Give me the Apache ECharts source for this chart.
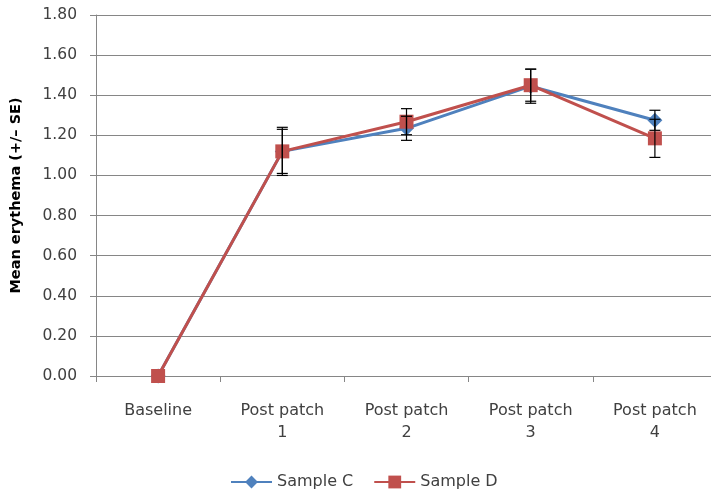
<!DOCTYPE html>
<html><head><meta charset="utf-8">
<script src="https://cdn.jsdelivr.net/npm/echarts@6/dist/echarts.min.js"></script>
<style>html,body{margin:0;padding:0;background:#fff}#c{width:711px;height:496px}</style>
</head><body><div id="c"></div>
<script>
const categories = ['Baseline', 'Post patch\n1', 'Post patch\n2', 'Post patch\n3', 'Post patch\n4'];
const sampleC = [0, 1.12, 1.235, 1.445, 1.275];
const sampleCSE = [0, 0.11, 0.06, 0.085, 0.05];
const sampleD = [0, 1.12, 1.268, 1.45, 1.185];
const sampleDSE = [0, 0.12, 0.065, 0.08, 0.095];
const yTicks = [0, 0.2, 0.4, 0.6, 0.8, 1.0, 1.2, 1.4, 1.6, 1.8];

function errData(vals, se) {
  return vals.map((v, i) => [i, v - se[i], v + se[i]]);
}
function errRender(params, api) {
  const x = api.value(0);
  const lo = api.coord([x, api.value(1)]);
  const hi = api.coord([x, api.value(2)]);
  const w = 5.5;
  const st = { stroke: '#000', lineWidth: 1.2 };
  return {
    type: 'group',
    children: [
      { type: 'line', shape: { x1: hi[0], y1: hi[1], x2: lo[0], y2: lo[1] }, style: st },
      { type: 'line', shape: { x1: hi[0] - w, y1: hi[1], x2: hi[0] + w, y2: hi[1] }, style: st },
      { type: 'line', shape: { x1: lo[0] - w, y1: lo[1], x2: lo[0] + w, y2: lo[1] }, style: st }
    ]
  };
}

const chart = echarts.init(document.getElementById('c'));
chart.setOption({
  animation: false,
  textStyle: { fontFamily: 'DejaVu Sans' },
  grid: { left: 96, top: 15, width: 621, height: 361, containLabel: false, outerBoundsMode: 'none' },
  legend: {
    top: 469, left: 225,
    itemWidth: 41, itemHeight: 16, itemGap: 20,
    textStyle: { fontSize: 16, color: '#404040', fontFamily: 'DejaVu Sans' },
    data: ['Sample C', 'Sample D']
  },
  xAxis: {
    type: 'category',
    data: categories,
    boundaryGap: true,
    axisLine: { lineStyle: { color: '#868686', width: 1 } },
    axisTick: { show: true, length: 6, lineStyle: { color: '#868686' } },
    axisLabel: { color: '#404040', fontSize: 16, lineHeight: 22, margin: 24, fontFamily: 'DejaVu Sans' }
  },
  yAxis: {
    type: 'value',
    min: 0, max: 1.8, interval: 0.2,
    name: 'Mean erythema (+/– SE)',
    nameLocation: 'middle',
    nameGap: 72,
    nameRotate: 90,
    nameTextStyle: { fontSize: 14.5, fontWeight: 'bold', color: '#000', fontFamily: 'DejaVu Sans' },
    axisLine: { show: true, lineStyle: { color: '#868686', width: 1 } },
    axisTick: { show: true, length: 6, lineStyle: { color: '#868686' } },
    splitLine: { lineStyle: { color: '#868686', width: 1 } },
    axisLabel: {
      color: '#404040', fontSize: 15.5, margin: 19, fontFamily: 'DejaVu Sans',
      formatter: v => yTicks.some(t => Math.abs(t - v) < 1e-9) ? v.toFixed(2) : ''
    }
  },
  series: [
    {
      name: 'Sample C', type: 'line', data: sampleC,
      symbol: 'diamond', symbolSize: 15,
      lineStyle: { color: '#4F81BD', width: 3 },
      itemStyle: { color: '#4F81BD' }, z: 2
    },
    {
      name: 'Sample D', type: 'line', data: sampleD,
      symbol: 'rect', symbolSize: 14,
      lineStyle: { color: '#C0504D', width: 3 },
      itemStyle: { color: '#C0504D' }, z: 3
    },
    { type: 'custom', renderItem: errRender, data: errData(sampleC, sampleCSE).slice(1), z: 5, silent: true },
    { type: 'custom', renderItem: errRender, data: errData(sampleD, sampleDSE).slice(1), z: 5, silent: true }
  ]
});
</script></body></html>
